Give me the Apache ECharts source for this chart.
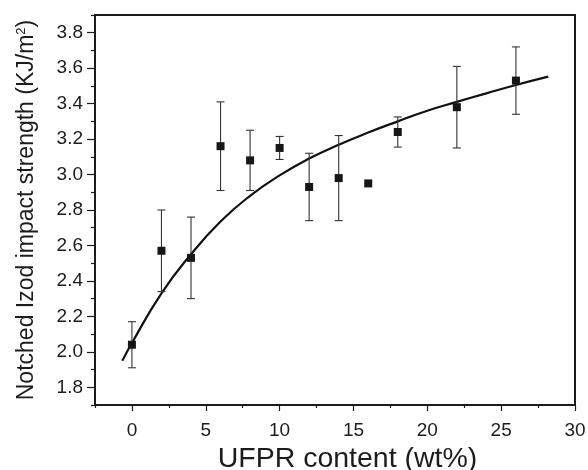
<!DOCTYPE html>
<html><head><meta charset="utf-8">
<script src="https://cdn.jsdelivr.net/npm/echarts@6/dist/echarts.min.js"></script>
<style>html,body{margin:0;padding:0;background:#fff}#c{width:588px;height:470px}</style>
</head><body><div id="c"></div>
<script>
// UFPR content (wt%)
const content = [0, 2, 4, 6, 8, 10, 12, 14, 16, 18, 22, 26];
// Notched Izod impact strength (KJ/m2)
const strength = [2.04, 2.57, 2.53, 3.16, 3.08, 3.15, 2.93, 2.98, 2.95, 3.24, 3.38, 3.53];
const strengthErr = [0.13, 0.23, 0.23, 0.25, 0.17, 0.065, 0.19, 0.24, 0, 0.085, 0.23, 0.19];
// fitted curve
const fitX = [-0.65, 0, 2, 4, 6, 8, 10, 12, 14, 16, 18, 20, 22, 24, 26, 28.19];
const fitY = [1.95, 2.05, 2.33, 2.55, 2.735, 2.88, 2.995, 3.09, 3.168, 3.237, 3.30, 3.36, 3.41, 3.458, 3.505, 3.552];
// tick labels
const xTicks = [0, 5, 10, 15, 20, 25, 30];
const xMinorTicks = [-2.5, 2.5, 7.5, 12.5, 17.5, 22.5, 27.5];
const yTicks = [1.8, 2.0, 2.2, 2.4, 2.6, 2.8, 3.0, 3.2, 3.4, 3.6, 3.8];
const yMinorTicks = [1.7, 1.9, 2.1, 2.3, 2.5, 2.7, 2.9, 3.1, 3.3, 3.5, 3.7, 3.9];

const FONT = 'Liberation Sans, Arial, Helvetica, sans-serif';
const INK = '#1c1c1c';

const scatterData = content.map((x, i) => [x, strength[i]]);
const errData = content.map((x, i) => [x, strength[i] - strengthErr[i], strength[i] + strengthErr[i]]).filter((d, i) => strengthErr[i] > 0);
const fitData = fitX.map((x, i) => [x, fitY[i]]);

const chart = echarts.init(document.getElementById('c'), null, {renderer: 'canvas'});
chart.setOption({
  animation: false,
  backgroundColor: '#fff',
  grid: {left: 95, right: 13, top: 15, bottom: 65, containLabel: false, outerBoundsMode: 'none',
    show: true, borderColor: INK, borderWidth: 2, backgroundColor: 'transparent'},
  xAxis: [
    {
      type: 'value', min: -2.5, max: 30, position: 'bottom',
      name: 'UFPR content (wt%)', nameLocation: 'middle', nameGap: 36,
      nameTextStyle: {fontFamily: FONT, fontSize: 28.5, color: INK, padding: [0, 0, 0, 25]},
      axisLine: {show: true, onZero: false, lineStyle: {color: INK, width: 2}},
      axisTick: {show: true, inside: false, length: 6, customValues: xTicks, lineStyle: {color: INK, width: 1.2}},
      axisLabel: {show: true, customValues: xTicks, margin: 16, fontFamily: FONT, fontSize: 19, color: INK, formatter: v => String(Math.round(v))},
      splitLine: {show: false}
    },
    {
      type: 'value', min: -2.5, max: 30, position: 'bottom', gridIndex: 0,
      axisLine: {show: false, onZero: false},
      axisTick: {show: true, inside: false, length: 3, customValues: xMinorTicks, lineStyle: {color: INK, width: 1.2}},
      axisLabel: {show: false},
      splitLine: {show: false}
    }
  ],
  yAxis: [
    {
      type: 'value', min: 1.7, max: 3.9, position: 'left',
      name: 'Notched Izod impact strength (KJ/m{sup|2})', nameLocation: 'middle', nameGap: 57, nameRotate: 90,
      nameTextStyle: {fontFamily: FONT, fontSize: 23, color: INK,
        rich: {sup: {fontFamily: FONT, fontSize: 13, color: INK, verticalAlign: 'top', padding: [0, 0, 10, 0]}}},
      axisLine: {show: true, onZero: false, lineStyle: {color: INK, width: 2}},
      axisTick: {show: true, inside: false, length: 8, customValues: yTicks, lineStyle: {color: INK, width: 1.2}},
      axisLabel: {show: true, customValues: yTicks, margin: 12, fontFamily: FONT, fontSize: 19, color: INK, formatter: v => v.toFixed(1)},
      splitLine: {show: false}
    },
    {
      type: 'value', min: 1.7, max: 3.9, position: 'left', gridIndex: 0,
      axisLine: {show: false, onZero: false},
      axisTick: {show: true, inside: false, length: 4, customValues: yMinorTicks, lineStyle: {color: INK, width: 1.2}},
      axisLabel: {show: false},
      splitLine: {show: false}
    }
  ],
  series: [
    {
      type: 'line', data: fitData, smooth: 0.5, showSymbol: false, symbol: 'none',
      lineStyle: {color: '#111', width: 2.2}, z: 2, silent: true
    },
    {
      type: 'custom', data: errData, z: 3, silent: true,
      encode: {x: 0, y: [1, 2]},
      renderItem: function (params, api) {
        const x = api.value(0);
        const lo = api.coord([x, api.value(1)]);
        const hi = api.coord([x, api.value(2)]);
        const hw = 4;
        const st = {stroke: '#333', lineWidth: 1.1, fill: null};
        return {type: 'group', children: [
          {type: 'line', shape: {x1: lo[0], y1: lo[1], x2: hi[0], y2: hi[1]}, style: st},
          {type: 'line', shape: {x1: lo[0] - hw, y1: lo[1], x2: lo[0] + hw, y2: lo[1]}, style: st},
          {type: 'line', shape: {x1: hi[0] - hw, y1: hi[1], x2: hi[0] + hw, y2: hi[1]}, style: st}
        ]};
      }
    },
    {
      type: 'scatter', data: scatterData, symbol: 'rect', symbolSize: 8,
      itemStyle: {color: '#161616', opacity: 1}, z: 4, silent: true
    }
  ]
});
</script>
</body></html>
